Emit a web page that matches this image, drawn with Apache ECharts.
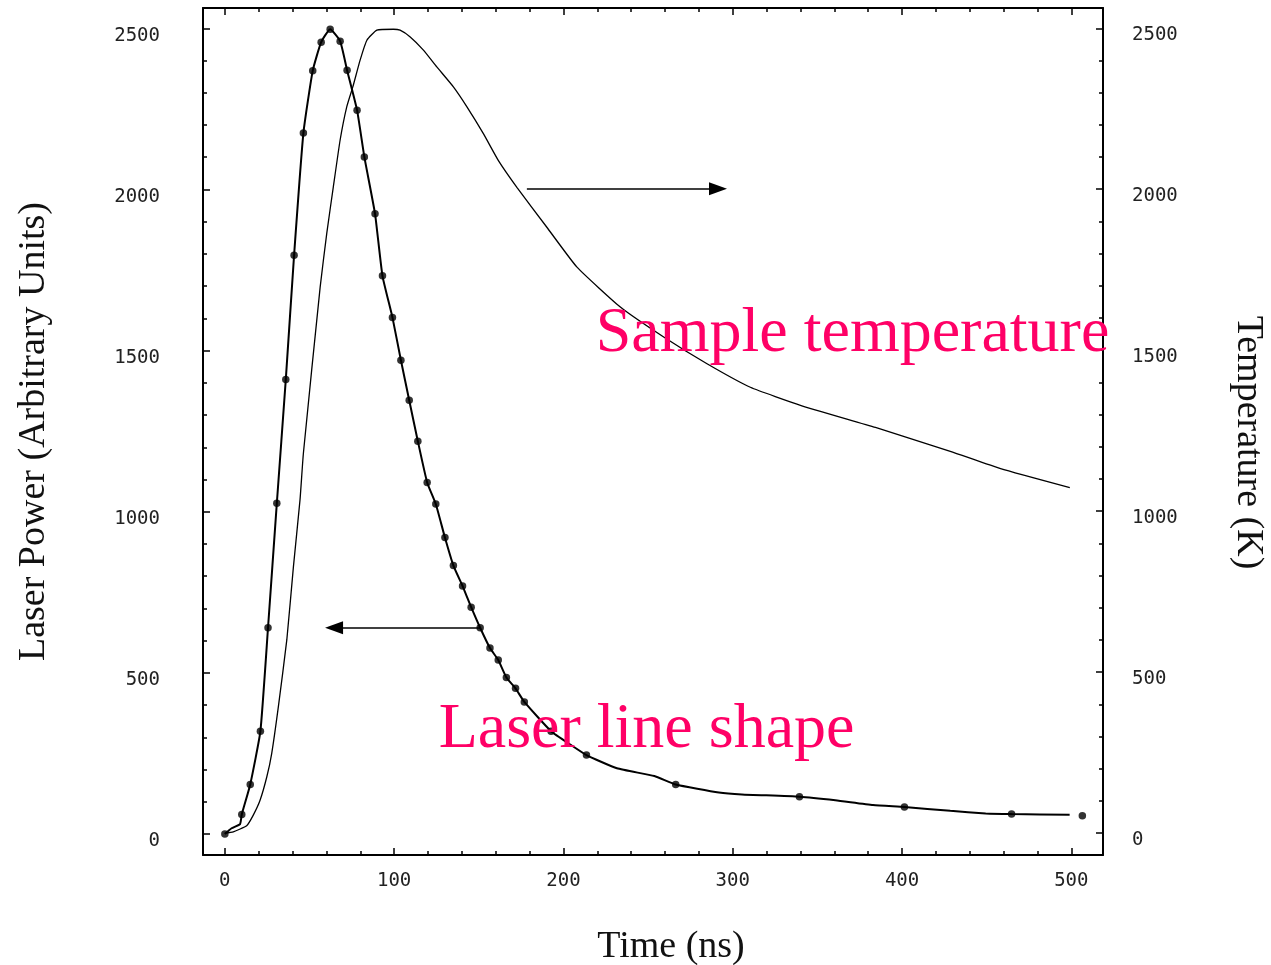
<!DOCTYPE html>
<html>
<head>
<meta charset="utf-8">
<script src="https://cdn.jsdelivr.net/npm/echarts@6/dist/echarts.min.js"></script>
<style>
html,body{margin:0;padding:0;background:#fff;}
#chart{width:1271px;height:965px;}
</style>
</head>
<body>
<div id="chart"></div>
<script>
// ---- data ----
const xMajorTicks = [0, 100, 200, 300, 400, 500];
const xMinorTicks = [0, 20, 40, 60, 80, 100, 120, 140, 160, 180, 200, 220, 240, 260, 280, 300, 320, 340, 360, 380, 400, 420, 440, 460, 480, 500];
const yMajorTicks = [0, 500, 1000, 1500, 2000, 2500];
const yMinorTicks = [0, 100, 200, 300, 400, 500, 600, 700, 800, 900, 1000, 1100, 1200, 1300, 1400, 1500, 1600, 1700, 1800, 1900, 2000, 2100, 2200, 2300, 2400, 2500];

// laser line shape (continuous curve)
const laserLineTime  = [0, 4, 9, 10, 15, 21, 25.5, 30.7, 36, 40.9, 46.4, 51.9, 56.9, 62.2, 68.1, 72.2, 78.1, 82.4, 88.7, 93.1, 99, 104, 108.9, 114, 119.5, 124.6, 130, 135, 140.4, 145.5, 150.8, 156.6, 161.5, 166.3, 171.7, 176.9, 192.7, 204.5, 213.6, 231.6, 253.7, 266.3, 291.8, 305.4, 339.4, 360.6, 382.9, 401.4, 428.5, 449.4, 464.7, 499];
const laserLinePower = [0, 18, 31, 61, 154, 319, 640, 1026, 1410, 1796, 2175, 2368, 2457, 2497, 2460, 2370, 2246, 2101, 1925, 1732, 1603, 1470, 1346, 1219, 1091, 1024, 920, 833, 770, 704, 640, 577, 540, 486, 452, 410, 319, 276, 245, 204, 180, 154, 129, 123, 116, 105, 90, 84, 72, 64, 62, 60];

// laser measured points (dots)
const laserDotTime  = [0, 10, 15, 21, 25.5, 30.7, 36, 40.9, 46.4, 51.9, 56.9, 62.2, 68.1, 72.2, 78.1, 82.4, 88.7, 93.1, 99, 104, 108.9, 114, 119.5, 124.6, 130, 135, 140.4, 145.5, 150.8, 156.6, 161.5, 166.3, 171.7, 176.9, 192.7, 213.6, 266.3, 339.4, 401.4, 464.7, 506.5];
const laserDotPower = [0, 61, 154, 319, 640, 1026, 1410, 1796, 2175, 2368, 2457, 2497, 2460, 2370, 2246, 2101, 1925, 1732, 1603, 1470, 1346, 1219, 1091, 1024, 920, 833, 770, 704, 640, 577, 540, 486, 452, 410, 319, 245, 154, 116, 84, 62, 57];

// sample temperature
const tempTime = [0, 5, 12.9, 16.8, 20.8, 24.8, 27.7, 31.6, 36.6, 40.5, 44.4, 46.4, 56.3, 60.2, 64.1, 68.1, 72, 75.6, 79.9, 83.9, 89.8, 99.6, 103.5, 109.5, 117.3, 125.2, 135, 143, 152.8, 161.6, 172.5, 190.2, 208, 233.6, 259.2, 284.8, 310.4, 340, 384.3, 428.5, 458.2, 499.1];
const tempK    = [0, 4, 23, 56, 102, 175, 248, 392, 600, 827, 1035, 1180, 1696, 1863, 2008, 2153, 2256, 2318, 2401, 2463, 2494, 2497, 2494, 2473, 2432, 2380, 2318, 2256, 2172, 2089, 2006, 1882, 1758, 1634, 1541, 1458, 1385, 1329, 1260, 1186, 1132, 1073];

// annotations (data coordinates on the laser-power axis)
const annotationTexts = ['Sample temperature', 'Laser line shape'];
const annotationAt    = [[218.8, 1551], [126, 321]];
const arrowFrom = [[178.4, 2002], [150.8, 640]];
const arrowTo   = [[291.3, 2002], [64.5, 640]];

// ---- chart ----
const zip = (a, b) => a.map((v, i) => [v, b[i]]);
const plain = v => String(v);
const tickFont = { fontFamily: 'DejaVu Sans Mono', fontSize: 19, color: '#222', formatter: plain };
const nameFont = { fontFamily: 'Liberation Serif', fontSize: 38, color: '#111' };
const X_MIN = -12.9, X_MAX = 518.7;
const YL_MIN = -65, YL_MAX = 2563;
const YR_MIN = -68, YR_MAX = 2563;
const axisLineStyle = { show: true, onZero: false, lineStyle: { color: '#000', width: 2 } };
const noLine = { show: false, onZero: false };

function tickAxis(pos, min, max, values, len, extra) {
  return Object.assign({
    type: 'value', position: pos, min: min, max: max,
    axisLine: noLine, splitLine: { show: false },
    axisLabel: { show: false },
    axisTick: { show: true, inside: true, length: len, customValues: values, lineStyle: { color: '#000', width: 1.5 } }
  }, extra || {});
}

const option = {
  backgroundColor: '#fff',
  animation: false,
  grid: { left: 203, right: 168, top: 8, bottom: 110, show: false, containLabel: false, outerBoundsMode: 'none' },
  xAxis: [
    {
      type: 'value', position: 'bottom', min: X_MIN, max: X_MAX,
      axisLine: axisLineStyle, splitLine: { show: false },
      axisTick: { show: true, inside: true, length: 7, customValues: xMajorTicks, lineStyle: { color: '#000', width: 1.5 } },
      axisLabel: Object.assign({ customValues: xMajorTicks, margin: 17 }, tickFont),
      name: 'Time (ns)', nameLocation: 'middle', nameGap: 73,
      nameTextStyle: Object.assign({ padding: [0, 0, 0, 36] }, nameFont)
    },
    tickAxis('bottom', X_MIN, X_MAX, xMinorTicks, 4),
    tickAxis('top', X_MIN, X_MAX, xMajorTicks, 7, { axisLine: axisLineStyle }),
    tickAxis('top', X_MIN, X_MAX, xMinorTicks, 4)
  ],
  yAxis: [
    {
      type: 'value', position: 'left', min: YL_MIN, max: YL_MAX,
      axisLine: axisLineStyle, splitLine: { show: false },
      axisTick: { show: true, inside: true, length: 7, customValues: yMajorTicks, lineStyle: { color: '#000', width: 1.5 } },
      axisLabel: Object.assign({ customValues: yMajorTicks, margin: 43, verticalAlign: 'top', lineHeight: 15 }, tickFont),
      name: 'Laser Power (Arbitrary Units)', nameLocation: 'middle', nameGap: 150, nameRotate: 90,
      nameTextStyle: Object.assign({}, nameFont)
    },
    tickAxis('left', YL_MIN, YL_MAX, yMinorTicks, 4),
    {
      type: 'value', position: 'right', min: YR_MIN, max: YR_MAX,
      axisLine: axisLineStyle, splitLine: { show: false },
      axisTick: { show: true, inside: true, length: 7, customValues: yMajorTicks, lineStyle: { color: '#000', width: 1.5 } },
      axisLabel: Object.assign({ customValues: yMajorTicks, margin: 29, verticalAlign: 'top', lineHeight: 13 }, tickFont),
      name: 'Temperature (K)', nameLocation: 'middle', nameGap: 126, nameRotate: -90,
      nameTextStyle: Object.assign({ padding: [0, 0, 0, 22] }, nameFont)
    },
    tickAxis('right', YR_MIN, YR_MAX, yMinorTicks, 4)
  ],
  series: [
    {
      name: 'Laser line shape', type: 'line', xAxisIndex: 0, yAxisIndex: 0,
      data: zip(laserLineTime, laserLinePower),
      showSymbol: false, smooth: 0.15,
      lineStyle: { color: '#000', width: 2 },
      markLine: {
        silent: true, animation: false,
        symbol: ['none', 'triangle'], symbolSize: [13, 18],
        label: { show: false },
        lineStyle: { color: '#000', width: 1.5, type: 'solid' },
        data: arrowFrom.map((p, i) => [{ coord: p }, { coord: arrowTo[i] }])
      },
      markPoint: {
        silent: true, animation: false,
        symbol: 'circle', symbolSize: 1,
        itemStyle: { color: 'rgba(0,0,0,0)' },
        label: { show: true, position: 'right', distance: 0, fontFamily: 'Liberation Serif', fontSize: 64, color: '#ff0066' },
        data: annotationAt.map((p, i) => ({ coord: p, label: { formatter: annotationTexts[i] } }))
      }
    },
    {
      name: 'Laser data', type: 'scatter', xAxisIndex: 0, yAxisIndex: 0,
      data: zip(laserDotTime, laserDotPower),
      symbol: 'circle', symbolSize: 7.5,
      itemStyle: { color: '#000' }
    },
    {
      name: 'Sample temperature', type: 'line', xAxisIndex: 0, yAxisIndex: 2,
      data: zip(tempTime, tempK),
      showSymbol: false, smooth: 0.15,
      lineStyle: { color: '#000', width: 1.3 }
    }
  ]
};

const chart = echarts.init(document.getElementById('chart'), null, { renderer: 'canvas' });
chart.setOption(option);
</script>
</body>
</html>
